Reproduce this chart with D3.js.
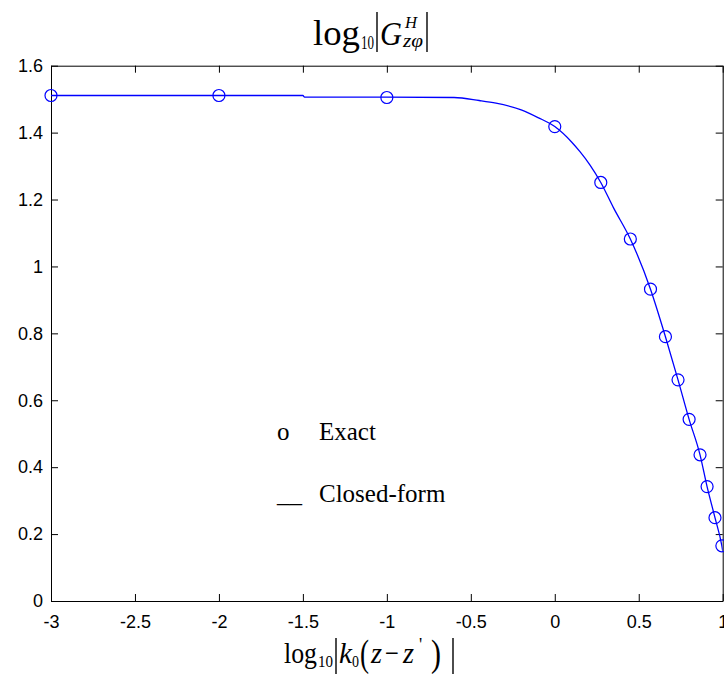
<!DOCTYPE html>
<html>
<head>
<meta charset="utf-8">
<script src="https://cdn.jsdelivr.net/npm/d3@7"></script>
<style>
  body { margin: 0; background: #fff; }
  svg { display: block; }
</style>
</head>
<body>
<div id="chart-area"></div>
<script>
// values
const exactX = [-3, -2, -1, 0, 0.274, 0.45, 0.57, 0.659, 0.734, 0.8, 0.865, 0.907, 0.954, 0.995];
const exactY = [1.511, 1.511, 1.505, 1.418, 1.251, 1.082, 0.932, 0.79, 0.661, 0.543, 0.437, 0.342, 0.249, 0.165];

const closedX = [-3, -1.5, -1.49, -1, -0.6, -0.45, -0.35, -0.2, -0.1, 0, 0.1, 0.15, 0.21, 0.274, 0.35, 0.45, 0.57, 0.659, 0.734, 0.8, 0.865, 0.907, 0.954, 0.995, 1];
const closedY = [1.511, 1.511, 1.506, 1.506, 1.505, 1.496, 1.488, 1.468, 1.445, 1.418, 1.372, 1.343, 1.303, 1.251, 1.175, 1.082, 0.932, 0.79, 0.661, 0.543, 0.437, 0.342, 0.249, 0.165, 0.15];

const xTicks = [-3, -2.5, -2, -1.5, -1, -0.5, 0, 0.5, 1];
const yTicks = [0, 0.2, 0.4, 0.6, 0.8, 1, 1.2, 1.4, 1.6];

const legendLabels = ["Exact", "Closed-form"];
const legendSymbols = ["o", "__"];

const W = 724, H = 674;
const MARGIN = { LEFT: 51, RIGHT: 1.3, TOP: 65.7, BOTTOM: 73 };
const WIDTH = W - MARGIN.LEFT - MARGIN.RIGHT;
const HEIGHT = H - MARGIN.TOP - MARGIN.BOTTOM;
const BLUE = "#0000ff";
const SERIF = "'Liberation Serif', 'Times New Roman', serif";
const SANS = "'Liberation Sans', Arial, sans-serif";

const svg = d3.select("#chart-area")
  .append("svg")
  .attr("width", W)
  .attr("height", H);

const g = svg.append("g")
  .attr("transform", `translate(${MARGIN.LEFT}, ${MARGIN.TOP})`);

// scales
const x = d3.scaleLinear().domain([-3, 1]).range([0, WIDTH]);
const y = d3.scaleLinear().domain([0, 1.6]).range([HEIGHT, 0]);

const fmt = (d) => String(d);

// axes, ticks pointing inward on all four sides
g.append("g")
  .attr("transform", `translate(0, ${HEIGHT})`)
  .call(d3.axisBottom(x).tickValues(xTicks).tickFormat(fmt).tickSizeInner(-7).tickSizeOuter(0).tickPadding(14));
g.append("g")
  .call(d3.axisLeft(y).tickValues(yTicks).tickFormat(fmt).tickSizeInner(-7).tickSizeOuter(0).tickPadding(8));
g.append("g")
  .call(d3.axisTop(x).tickValues(xTicks).tickFormat("").tickSizeInner(-7).tickSizeOuter(0));
g.append("g")
  .attr("transform", `translate(${WIDTH}, 0)`)
  .call(d3.axisRight(y).tickValues(yTicks).tickFormat("").tickSizeInner(-7).tickSizeOuter(0));

g.selectAll(".domain").attr("stroke", "#000");
g.selectAll(".tick line").attr("stroke", "#000");
g.selectAll(".tick text")
  .attr("font-family", SANS)
  .attr("font-size", "18px")
  .attr("fill", "#000");

// clip for the line
svg.append("defs").append("clipPath").attr("id", "plot-clip")
  .append("rect").attr("width", WIDTH).attr("height", HEIGHT);

const closedData = closedX.map((v, i) => ({ x: v, y: closedY[i] }));
const exactData = exactX.map((v, i) => ({ x: v, y: exactY[i] }));

const line = d3.line()
  .curve(d3.curveMonotoneX)
  .x((d) => x(d.x))
  .y((d) => y(d.y));

g.append("path")
  .attr("clip-path", "url(#plot-clip)")
  .attr("fill", "none")
  .attr("stroke", BLUE)
  .attr("stroke-width", 1.3)
  .attr("d", line(closedData));

g.selectAll(".exact")
  .data(exactData)
  .enter()
  .append("circle")
  .attr("class", "exact")
  .attr("cx", (d) => x(d.x))
  .attr("cy", (d) => y(d.y))
  .attr("r", 6)
  .attr("fill", "none")
  .attr("stroke", BLUE)
  .attr("stroke-width", 1.2);

// legend (plain text, as in the figure)
const legend = svg.append("g").attr("font-family", SERIF).attr("font-size", "25px").attr("fill", "#000");
legendLabels.forEach((lab, i) => {
  const by = 440 + i * 62;
  legend.append("text").attr("x", 277).attr("y", by).text(legendSymbols[i]);
  legend.append("text").attr("x", 319).attr("y", by).text(lab);
});

// equation pieces
function piece(parent, txt, px, py, size, italic, w) {
  const t = parent.append("text")
    .attr("x", px)
    .attr("y", py)
    .attr("font-family", SERIF)
    .attr("font-size", size + "px")
    .attr("font-style", italic ? "italic" : "normal")
    .attr("fill", "#000")
    .text(txt);
  if (w) t.attr("textLength", w).attr("lengthAdjust", "spacingAndGlyphs");
}
function bar(parent, px, y1, y2) {
  parent.append("line")
    .attr("x1", px).attr("x2", px)
    .attr("y1", y1).attr("y2", y2)
    .attr("stroke", "#000")
    .attr("stroke-width", 1.4);
}

// title: log10 |G^H_zφ|
const title = svg.append("g");
piece(title, "log", 313, 45, 36, false, 47);
piece(title, "10", 361, 49, 19, false, 13);
bar(title, 377, 12, 52);
piece(title, "G", 380, 45, 34, true, 22);
piece(title, "H", 405, 28, 17, true, 12);
piece(title, "z\u03c6", 403, 47, 18, true, 20);
bar(title, 427, 12, 52);

// x label: log10 |k0(z − z')|
const xl = svg.append("g");
piece(xl, "log", 284, 663, 30, false, 33);
piece(xl, "10", 318, 667, 17, false, 15);
bar(xl, 336, 638, 674);
piece(xl, "k", 339, 663, 30, true, 13);
piece(xl, "0", 352, 667, 17, false, 7);
piece(xl, "(", 360, 666, 38, false, 9);
piece(xl, "z", 371, 663, 30, true, 11);
piece(xl, "\u2212", 385, 663, 30, false, 14);
piece(xl, "z", 403, 663, 30, true, 11);
piece(xl, "'", 419, 651, 18, false);
piece(xl, ")", 431, 666, 38, false, 10);
bar(xl, 453, 638, 674);
</script>
</body>
</html>
